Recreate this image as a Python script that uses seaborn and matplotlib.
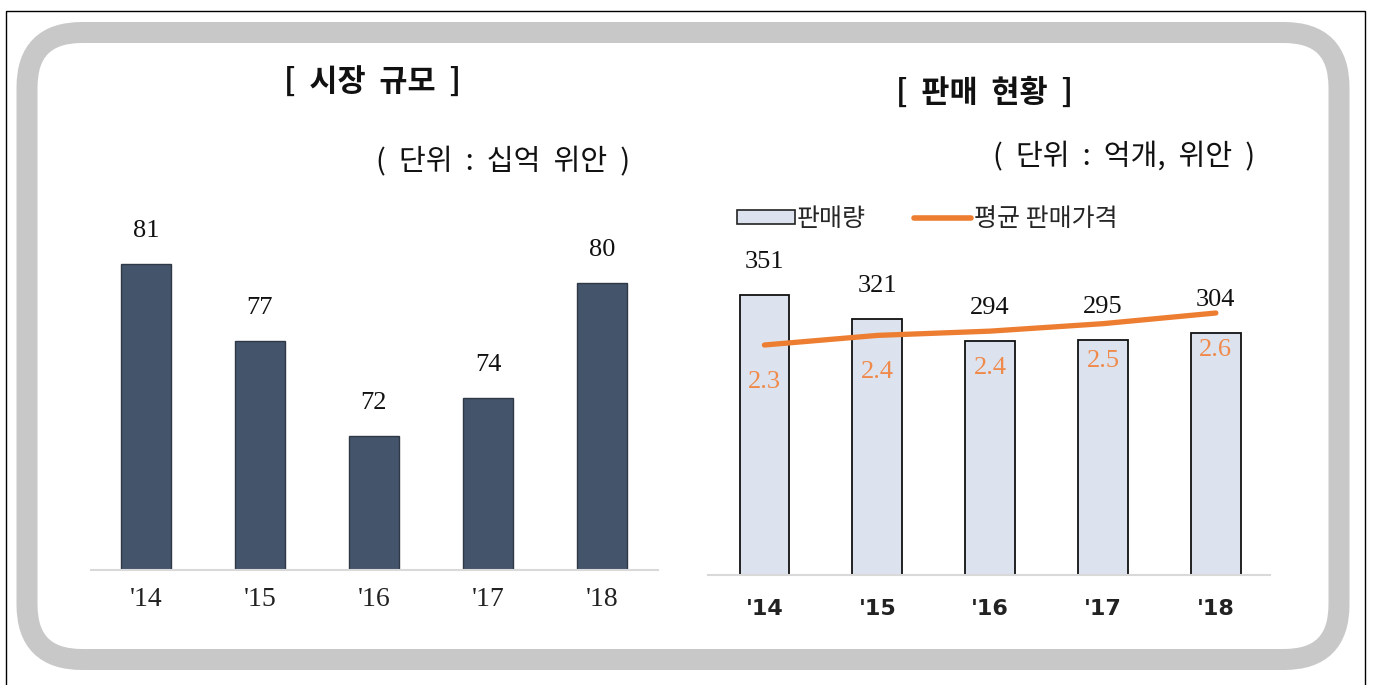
import numpy as np
import pandas as pd
import matplotlib
matplotlib.use("Agg")
import matplotlib.pyplot as plt
import seaborn as sns
from matplotlib.patches import FancyBboxPatch, Rectangle, Patch
from matplotlib.lines import Line2D

# ---------------- data ----------------
years = ["'14", "'15", "'16", "'17", "'18"]
market_size = [81, 77, 72, 74, 80]            # 십억 위안
sales_volume = [351, 321, 294, 295, 304]      # 억개
avg_price = [2.30, 2.39, 2.43, 2.50, 2.60]    # 위안

left_title = "[  시장  규모  ]"
left_unit = "(  단위  :  십억  위안  )"
right_title = "[  판매  현황  ]"
right_unit = "(  단위  :  억개,  위안  )"
legend_labels = ["판매량", "평균 판매가격"]

# ---------------- style ----------------
sns.set_style("white")
plt.rcParams['font.family'] = ['Noto Sans CJK KR', 'DejaVu Sans']

W, H = 1374, 685
fig = plt.figure(figsize=(W / 100, H / 100), dpi=100)
fig.patch.set_facecolor("white")

def px_axes(left, top, right, bottom):
    return fig.add_axes([left / W, (H - bottom) / H, (right - left) / W, (bottom - top) / H])

# background frame axes (pixel coordinates)
bg = fig.add_axes([0, 0, 1, 1], zorder=-5)
bg.set_xlim(0, W)
bg.set_ylim(H, 0)
bg.axis("off")
bg.add_patch(Rectangle((5.5, 10.5), 1359, 700, fill=False, ec="black", lw=1.0))
bg.add_patch(FancyBboxPatch((27, 32.5), 1312, 627, boxstyle="round,pad=0,rounding_size=55",
                            fill=False, ec="#c8c8c8", lw=21 * 0.72))

DARK = "#44546a"
LIGHT = "#dce3ee"
ORANGE = "#ed7d31"
SERIF = "Liberation Serif"

# ---------------- left chart ----------------
ax1 = px_axes(91, 200, 658, 570)
df1 = pd.DataFrame({"year": years, "value": market_size})
sns.barplot(data=df1, x="year", y="value", ax=ax1, color=DARK, saturation=1,
            width=0.44, edgecolor="#2e3846", linewidth=1.0)
ax1.set_xlim(-0.48, 4.49)
ax1.set_ylim(65, 65 + 370 / 19.11)
for s in ["left", "right", "top"]:
    ax1.spines[s].set_visible(False)
ax1.spines["bottom"].set_color("#d9d9d9")
ax1.spines["bottom"].set_linewidth(1.5)
ax1.set_yticks([])
ax1.set_xlabel("")
ax1.set_ylabel("")
ax1.tick_params(axis="x", length=0, pad=12)
for lab in ax1.get_xticklabels():
    lab.set_fontfamily(SERIF)
    lab.set_fontsize(20)
    lab.set_color("#222222")
for i, v in enumerate(market_size):
    ax1.annotate(f"{v}", (i, v), xytext=(0, 33), textcoords="offset pixels",
                 ha="center", va="center", fontsize=19, fontfamily=SERIF, color="#111111")

# ---------------- right chart ----------------
ax2 = px_axes(708, 230, 1270, 575)
df2 = pd.DataFrame({"year": years, "value": sales_volume})
sns.barplot(data=df2, x="year", y="value", ax=ax2, color=LIGHT, saturation=1,
            width=0.44, edgecolor="#111111", linewidth=1.3)
ax2.set_xlim(-0.5, 4.48)
ax2.set_ylim(0, 345 / 0.797)
for s in ["left", "right", "top"]:
    ax2.spines[s].set_visible(False)
ax2.spines["bottom"].set_color("#d9d9d9")
ax2.spines["bottom"].set_linewidth(1.5)
ax2.set_yticks([])
ax2.set_xlabel("")
ax2.set_ylabel("")
ax2.tick_params(axis="x", length=0, pad=17)
for lab in ax2.get_xticklabels():
    lab.set_fontsize(16)
    lab.set_fontweight("bold")
    lab.set_fontfamily(["DejaVu Sans"])
    lab.set_color("#222222")
for i, v in enumerate(sales_volume):
    ax2.annotate(f"{v}", (i, v), xytext=(0, 33), textcoords="offset pixels",
                 ha="center", va="center", fontsize=19, fontfamily=SERIF, color="#111111")

ax3 = ax2.twinx()
df3 = pd.DataFrame({"pos": np.arange(len(years)), "price": avg_price})
sns.lineplot(data=df3, x="pos", y="price", ax=ax3, color=ORANGE, linewidth=3.8,
             solid_capstyle="round")
ppu = 32 / 0.30
bottom = 2.30 - 230 / ppu
ax3.set_ylim(bottom, bottom + 345 / ppu)
ax3.set_xlim(-0.5, 4.48)
ax3.axis("off")
for i, v in enumerate(avg_price):
    ax3.annotate(f"{v:.1f}", (i, v), xytext=(0, -37), textcoords="offset pixels",
                 ha="center", va="center", fontsize=19, fontfamily=SERIF, color="#f08a4b")

# legend
handles = [Patch(facecolor=LIGHT, edgecolor="#222222", linewidth=1.2),
           Line2D([0], [0], color=ORANGE, lw=4)]
fig.legend(handles, legend_labels, loc="center left",
           bbox_to_anchor=(737 / W, 1 - 219 / H), ncol=2, frameon=False,
           fontsize=18, handlelength=2.3, handletextpad=0.1, columnspacing=1.9,
           handleheight=0.5, borderaxespad=0, borderpad=0)

# titles
fig.text(372 / W, 1 - 83 / H, left_title, ha="center", va="center",
         fontsize=22, fontweight="bold", color="#111111")
fig.text(503 / W, 1 - 162 / H, left_unit, ha="center", va="center",
         fontsize=21, color="#111111")
fig.text(984 / W, 1 - 93 / H, right_title, ha="center", va="center",
         fontsize=22, fontweight="heavy", color="#111111")
fig.text(1124 / W, 1 - 157 / H, right_unit, ha="center", va="center",
         fontsize=21, color="#111111")

fig.savefig("out.png", dpi=100, facecolor="white")
